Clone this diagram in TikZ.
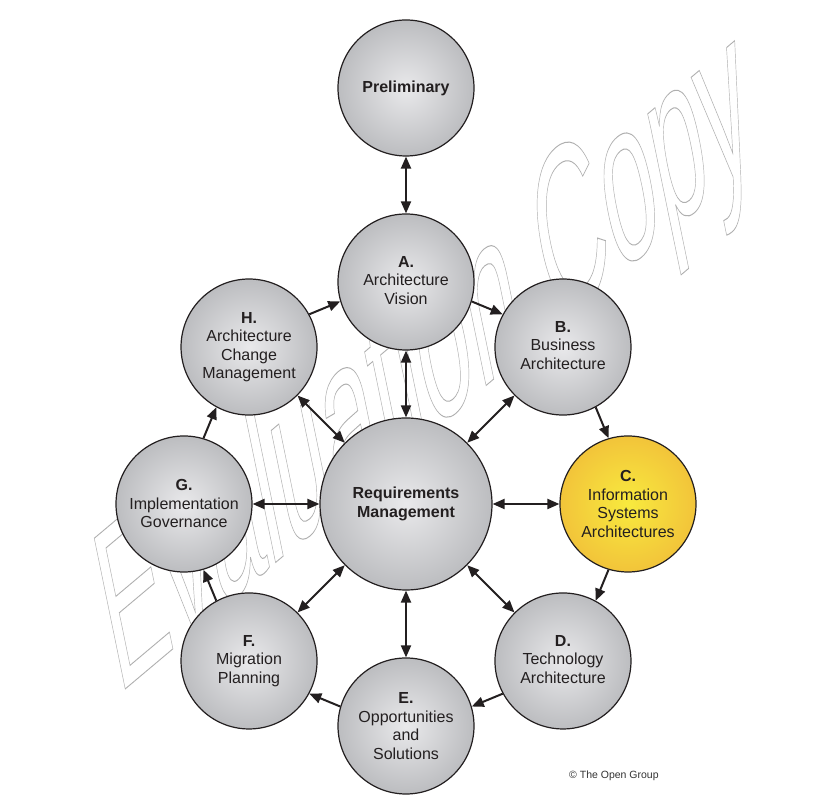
\documentclass[tikz,border=0pt]{standalone}
\usepackage{fontspec}
\setmainfont{Liberation Sans}
\usetikzlibrary{arrows.meta,calc}
\definecolor{ink}{RGB}{35,31,32}
\definecolor{gin}{RGB}{233,233,235}
\definecolor{gout}{RGB}{188,189,192}
\definecolor{yin}{RGB}{248,234,62}
\definecolor{yout}{RGB}{242,196,58}
\definecolor{wm}{RGB}{175,175,175}
\tikzset{
  phase/.style={circle, draw=ink, line width=1.2pt, minimum size=136pt, inner sep=0pt,
    align=center, text=ink, font=\fontsize{16}{18.5}\selectfont,
    inner color=gin, outer color=gout},
  hub/.style={phase, minimum size=172pt},
  hilite/.style={phase, inner color=yin, outer color=yout},
  tip/.tip={Triangle[length=12pt,width=10pt]},
  link/.style={draw=ink, line width=2pt, -tip},
  dlink/.style={draw=ink, line width=2pt, tip-tip},
}
\newcommand{\lbl}[1]{\raisebox{2pt}{\begin{tabular}{@{}c@{}}#1\end{tabular}}}
\begin{document}
\begin{tikzpicture}[x=1pt,y=1pt]
\useasboundingbox (0,0) rectangle (820,802);
\fill[white] (0,0) rectangle (820,802);
% watermark
\begin{scope}
\pgftransformcm{8.8}{7.4}{-4.5}{21.9}{\pgfpoint{118pt}{107pt}}
\node[transform shape, anchor=base west, inner sep=0pt, outer sep=0pt, text=wm] (wmark) at (0,0)
  {\fontsize{10}{12}\selectfont\special{pdf:literal direct 1 Tr 0.045 w}Evaluation Copy\special{pdf:literal direct 0 Tr}};
\end{scope}
% phases
\node[hub] (RM) at (406,298) {\textbf{Requirements}\\\textbf{Management}};
\node[phase] (P) at (406,714) {\textbf{Preliminary}};
\node[phase] (A) at ($(RM)+(90:222)$) {\lbl{\textbf{A.}\\Architecture\\Vision}};
\node[phase] (B) at ($(RM)+(45:222)$) {\lbl{\textbf{B.}\\Business\\Architecture}};
\node[hilite] (C) at ($(RM)+(0:222)$) {\textbf{C.}\\Information\\Systems\\Architectures};
\node[phase] (D) at ($(RM)+(-45:222)$) {\lbl{\textbf{D.}\\Technology\\Architecture}};
\node[phase] (E) at ($(RM)+(-90:222)$) {\textbf{E.}\\Opportunities\\and\\Solutions};
\node[phase] (F) at ($(RM)+(-135:222)$) {\lbl{\textbf{F.}\\Migration\\Planning}};
\node[phase] (G) at ($(RM)+(180:222)$) {\textbf{G.}\\Implementation\\Governance};
\node[phase] (H) at ($(RM)+(135:222)$) {\textbf{H.}\\Architecture\\Change\\Management};
% preliminary link
\draw[dlink] (P) -- (A);
% spokes
\foreach \n in {A,B,C,D,E,F,G,H} \draw[dlink] (RM) -- (\n);
% ring
\foreach \s/\t in {A/B,B/C,C/D,D/E,E/F,F/G,G/H,H/A}
  \draw[link] ($(\s)!68.6pt!6:(\t)$) -- ($(\t)!68.6pt!-6:(\s)$);
\node[anchor=west, inner sep=0pt, text=black!80, font=\fontsize{10.5}{12}\selectfont] (copy) at (569,26) {© The Open Group};
\end{tikzpicture}
\end{document}
